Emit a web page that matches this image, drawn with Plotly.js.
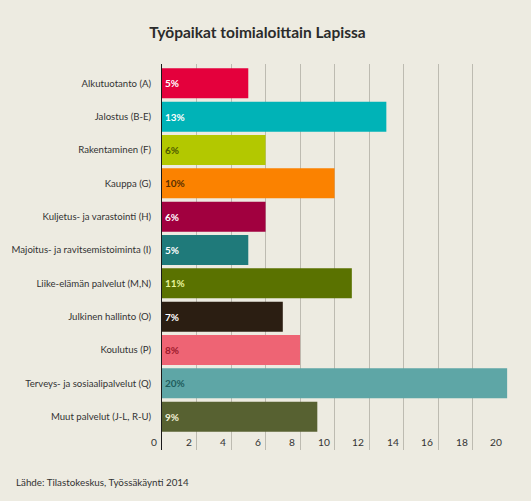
<!DOCTYPE html>
<html>
<head>
<meta charset="utf-8">
<script src="https://cdn.plot.ly/plotly-3.0.1.min.js"></script>
<style>
html,body{margin:0;padding:0;background:#edebe1;}
#chart{width:531px;height:501px;}
</style>
</head>
<body>
<div id="chart"></div>
<script>
const categories = [
  "Alkutuotanto (A)",
  "Jalostus (B-E)",
  "Rakentaminen (F)",
  "Kauppa (G)",
  "Kuljetus- ja varastointi (H)",
  "Majoitus- ja ravitsemistoiminta (I)",
  "Liike-elämän palvelut (M,N)",
  "Julkinen hallinto (O)",
  "Koulutus (P)",
  "Terveys- ja sosiaalipalvelut (Q)",
  "Muut palvelut (J-L, R-U)"
];
const values = [5, 13, 6, 10, 6, 5, 11, 7, 8, 20, 9];
const pctLabels = ["5%", "13%", "6%", "10%", "6%", "5%", "11%", "7%", "8%", "20%", "9%"];
const barColors = ["#e4003c", "#00b3b7", "#b3c800", "#fb8200", "#a1003f", "#1f7a7a", "#5a7200", "#2b1e12", "#ee6474", "#5ea6a6", "#576131"];
const labelColors = ["#ffffff", "#ffffff", "#4d5a00", "#5a3000", "#ffffff", "#ffffff", "#e8f29a", "#ffffff", "#9c1a2c", "#1f5e5e", "#f2f0d6"];
const xTicks = [0, 2, 4, 6, 8, 10, 12, 14, 16, 18, 20];

const FONT = "Lato, 'Open Sans', sans-serif";
const tickFont = {family: FONT, size: 10.2, color: "#333333"};

const trace = {
  type: "bar",
  orientation: "h",
  x: values,
  y: categories,
  marker: {color: barColors},
  text: pctLabels,
  textposition: "inside",
  insidetextanchor: "start",
  constraintext: "none",
  textfont: {family: FONT, size: 10, color: labelColors, weight: "bold"},
  hoverinfo: "none"
};

const tickAnnotations = xTicks.map(v => ({
  text: String(v),
  xref: "x", yref: "paper",
  x: v, y: 0,
  xanchor: "right", yanchor: "bottom",
  xshift: -3, yshift: 0,
  showarrow: false,
  font: tickFont
}));

const layout = {
  width: 531,
  height: 501,
  paper_bgcolor: "#edebe1",
  plot_bgcolor: "#edebe1",
  margin: {l: 162, r: 23, t: 64, b: 51},
  bargap: 0.1,
  showlegend: false,
  title: {
    text: "<b>Työpaikat toimialoittain Lapissa</b>",
    font: {family: FONT, size: 15.5, color: "#2b2b2b"},
    x: 0.485, xanchor: "center", y: 0.934, yanchor: "middle"
  },
  xaxis: {
    range: [0, 20.05],
    tickvals: xTicks,
    showticklabels: false,
    ticks: "",
    showgrid: true,
    gridcolor: "#bdbbb1",
    gridwidth: 1,
    zeroline: false,
    showline: false
  },
  yaxis: {
    type: "category",
    categoryorder: "array",
    categoryarray: categories,
    range: [11.0, -0.58],
    showgrid: false,
    zeroline: false,
    showline: true,
    linecolor: "#1a1a1a",
    linewidth: 1,
    ticks: "",
    ticklabelstandoff: 8,
    tickfont: {family: FONT, size: 9.6, color: "#333333"}
  },
  annotations: tickAnnotations.concat([
    {
      text: "Lähde: Tilastokeskus, Työssäkäynti 2014",
      xref: "paper", yref: "paper",
      x: -162/346, y: -(482-450)/386,
      xanchor: "left", yanchor: "middle",
      xshift: 14,
      showarrow: false,
      font: {family: FONT, size: 9.8, color: "#333333"}
    }
  ])
};

Plotly.newPlot("chart", [trace], layout, {displayModeBar: false, staticPlot: true});
</script>
</body>
</html>
